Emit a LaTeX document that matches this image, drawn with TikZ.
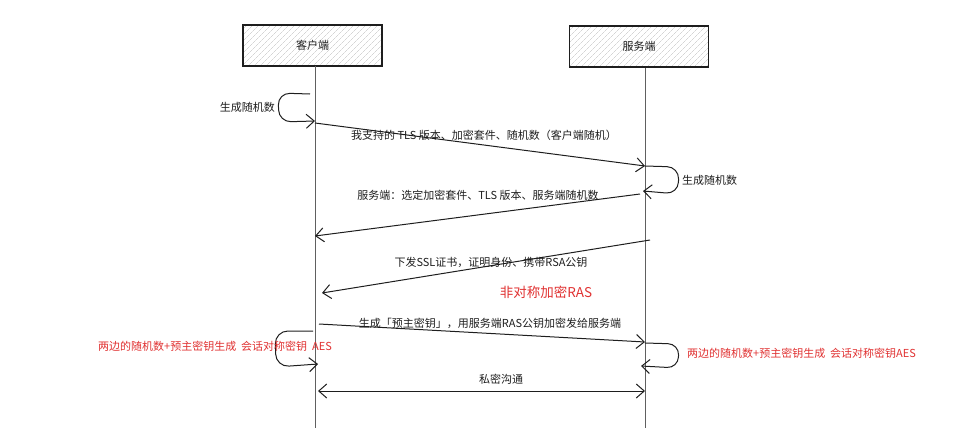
\documentclass[tikz,border=0pt]{standalone}
\usepackage{fontspec}
\setmainfont{Noto Sans CJK SC}
\usetikzlibrary{arrows.meta,patterns.meta}
\definecolor{ink}{HTML}{1E1E1E}
\definecolor{redt}{HTML}{E03131}
\begin{document}
\begin{tikzpicture}[x=1pt,y=-1pt,
  actor/.style={draw=ink, line width=1.2pt, minimum width=139pt, minimum height=41pt, inner sep=0pt,
    pattern={Lines[angle=45,distance=4pt,line width=0.4pt]}, pattern color=gray!50,
    font=\fontsize{11}{13}\selectfont, text=ink},
  life/.style={draw=gray!75!black, line width=0.8pt},
  msg/.style={draw=ink, line width=1pt, -{Straight Barb[length=8pt,width=14pt,line width=1pt]}},
  dmsg/.style={draw=ink, line width=1pt, {Straight Barb[length=8pt,width=14pt,line width=1pt]}-{Straight Barb[length=8pt,width=14pt,line width=1pt]}},
  lbl/.style={font=\fontsize{11}{13}\selectfont, text=ink, inner sep=1pt},
  rlbl/.style={font=\fontsize{11}{13}\selectfont, text=redt, inner sep=1pt}
]
\useasboundingbox (0,0) rectangle (974,428);
% actors
\node[actor] (cl) at (312.5,45.5) {客户端};
\node[actor] (sv) at (639,46.5) {服务端};
\coordinate (clTop) at (315,66); \coordinate (clBot) at (315,428);
\coordinate (svTop) at (645,68); \coordinate (svBot) at (645,428);
\draw[life] (clTop) -- (clBot);
\draw[life] (svTop) -- (svBot);
% client self loop 1
\coordinate (l1s) at (310,94); \coordinate (l1e) at (315,121);
\draw[msg, rounded corners=12pt] (l1s) -- (278,93) -- (279,122) -- (l1e);
\node[lbl, anchor=east] (l1t) at (276,107) {生成随机数};
% message 1
\coordinate (a1s) at (315,123); \coordinate (a1e) at (645,166);
\draw[msg] (a1s) -- (a1e);
\node[lbl] (a1t) at (484,135) {我支持的 TLS 版本、加密套件、随机数（客户端随机）};
% server self loop 1
\coordinate (l2s) at (645,166); \coordinate (l2e) at (643,191);
\draw[msg, rounded corners=12pt] (l2s) -- (679,167) -- (678,194) -- (l2e);
\node[lbl, anchor=west] (l2t) at (681,180) {生成随机数};
% message 2
\coordinate (a2s) at (640,194); \coordinate (a2e) at (315,236);
\draw[msg] (a2s) -- (a2e);
\node[lbl] (a2t) at (478,195) {服务端：选定加密套件、TLS 版本、服务端随机数};
% message 3
\coordinate (a3s) at (650,240); \coordinate (a3e) at (322,293);
\draw[msg] (a3s) -- (a3e);
\node[lbl] (a3t) at (491,262) {下发SSL证书，证明身份、携带RSA公钥};
\node[rlbl, font=\fontsize{13.5}{15}\selectfont] (asym) at (546,292) {非对称加密RAS};
% message 4
\coordinate (a4s) at (319,324); \coordinate (a4e) at (645,342);
\draw[msg] (a4s) -- (a4e);
\node[lbl] (a4t) at (490,323) {生成「预主密钥」，用服务端RAS公钥加密发给服务端};
% client self loop 2
\coordinate (l3s) at (313,331); \coordinate (l3e) at (318,364);
\draw[msg, rounded corners=13pt] (l3s) -- (275,331) -- (276,367) -- (l3e);
\node[rlbl] (l3t) at (215,346) {两边的随机数+预主密钥生成 \ 会话对称密钥 \ AES};
% server self loop 2
\coordinate (l4s) at (645,343); \coordinate (l4e) at (641,366);
\draw[msg, rounded corners=11pt] (l4s) -- (679,344) -- (678,368) -- (l4e);
\node[rlbl, anchor=west] (l4t) at (686,353) {两边的随机数+预主密钥生成 \ 会话对称密钥AES};
% message 5
\coordinate (a5s) at (318,391); \coordinate (a5e) at (645,391);
\draw[dmsg] (a5s) -- (a5e);
\node[lbl] (a5t) at (501,379) {私密沟通};
\end{tikzpicture}
\end{document}
